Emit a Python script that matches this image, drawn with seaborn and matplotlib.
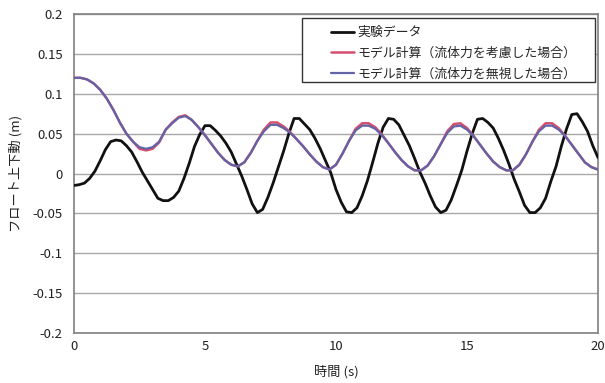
import numpy as np
import pandas as pd
import matplotlib
matplotlib.use("Agg")
import matplotlib.pyplot as plt
from matplotlib.patches import Rectangle
import seaborn as sns

# ---- data -------------------------------------------------------------
# measured float heave (sampled every 0.2 s)
t_exp = np.arange(0, 101) * 0.2
z_exp = [
    -0.015, -0.014, -0.012, -0.006, 0.003, 0.016, 0.030, 0.040, 0.042, 0.041,
    0.035, 0.027, 0.015, 0.002, -0.009, -0.020, -0.031, -0.034, -0.034, -0.030,
    -0.022, -0.006, 0.013, 0.034, 0.049, 0.060, 0.060, 0.054, 0.047, 0.038,
    0.027, 0.012, -0.003, -0.020, -0.038, -0.049, -0.045, -0.030, -0.012, 0.008,
    0.028, 0.050, 0.069, 0.069, 0.062, 0.055, 0.044, 0.031, 0.016, 0.001,
    -0.020, -0.036, -0.048, -0.049, -0.043, -0.028, -0.009, 0.014, 0.038, 0.058,
    0.069, 0.068, 0.061, 0.048, 0.035, 0.019, 0.002, -0.012, -0.028, -0.042,
    -0.049, -0.046, -0.033, -0.015, 0.004, 0.028, 0.050, 0.068, 0.069, 0.064,
    0.057, 0.044, 0.029, 0.012, -0.007, -0.023, -0.040, -0.049, -0.049, -0.043,
    -0.031, -0.010, 0.009, 0.034, 0.056, 0.074, 0.075, 0.065, 0.053, 0.035,
    0.020,
]

# model results (sampled every 0.25 s)
t_model = np.arange(0, 81) * 0.25
z_fluid = [
    0.120, 0.120, 0.118, 0.113, 0.105, 0.094, 0.080, 0.064, 0.050, 0.040,
    0.031, 0.029, 0.031, 0.039, 0.055, 0.064, 0.071, 0.073, 0.067, 0.058,
    0.048, 0.037, 0.026, 0.017, 0.011, 0.009, 0.014, 0.026, 0.041, 0.055,
    0.064, 0.064, 0.059, 0.052, 0.043, 0.034, 0.024, 0.015, 0.008, 0.005,
    0.011, 0.025, 0.041, 0.056, 0.063, 0.063, 0.058, 0.049, 0.038, 0.027,
    0.017, 0.009, 0.004, 0.004, 0.010, 0.022, 0.037, 0.053, 0.062, 0.063,
    0.057, 0.047, 0.036, 0.025, 0.015, 0.008, 0.004, 0.004, 0.011, 0.024,
    0.040, 0.055, 0.063, 0.063, 0.057, 0.047, 0.036, 0.025, 0.014, 0.008,
    0.005,
]
z_nofluid = [
    0.120, 0.120, 0.118, 0.113, 0.105, 0.094, 0.080, 0.064, 0.050, 0.040,
    0.033, 0.031, 0.033, 0.040, 0.055, 0.063, 0.070, 0.072, 0.067, 0.058,
    0.048, 0.037, 0.026, 0.017, 0.011, 0.009, 0.014, 0.026, 0.041, 0.053,
    0.061, 0.061, 0.057, 0.051, 0.043, 0.034, 0.024, 0.015, 0.008, 0.005,
    0.011, 0.025, 0.041, 0.054, 0.060, 0.060, 0.056, 0.048, 0.038, 0.027,
    0.017, 0.009, 0.004, 0.004, 0.010, 0.022, 0.037, 0.051, 0.059, 0.060,
    0.055, 0.047, 0.036, 0.025, 0.015, 0.008, 0.004, 0.004, 0.011, 0.024,
    0.040, 0.053, 0.060, 0.060, 0.055, 0.047, 0.036, 0.025, 0.014, 0.008,
    0.005,
]

series_names = ["実験データ", "モデル計算（流体力を考慮した場合）", "モデル計算（流体力を無視した場合）"]
series_colors = ["#111111", "#D4506E", "#6262A6"]

x_ticks = [0, 5, 10, 15, 20]
x_ticklabels = ["0", "5", "10", "15", "20"]
y_ticks = [-0.2, -0.15, -0.1, -0.05, 0, 0.05, 0.1, 0.15, 0.2]
y_ticklabels = ["-0.2", "-0.15", "-0.1", "-0.05", "0", "0.05", "0.1", "0.15", "0.2"]

x_label = "時間 (s)"
y_label = "フロート上下動 (m)"

# ---- style ------------------------------------------------------------
sns.set_style("white")
plt.rcParams["font.family"] = ["Noto Sans CJK JP", "DejaVu Sans"]

fig = plt.figure(figsize=(6.05, 3.83), dpi=100)
ax = fig.add_axes([0.1223, 0.1305, 0.8661, 0.8329])

df_exp = pd.DataFrame({"t": t_exp, "z": z_exp})
df_model = pd.DataFrame({"t": t_model, "a": z_fluid, "b": z_nofluid})

sns.lineplot(data=df_exp, x="t", y="z", ax=ax, color=series_colors[0],
             linewidth=2.0, label=series_names[0], zorder=3)
sns.lineplot(data=df_model, x="t", y="a", ax=ax, color=series_colors[1],
             linewidth=1.8, label=series_names[1], zorder=4)
sns.lineplot(data=df_model, x="t", y="b", ax=ax, color=series_colors[2],
             linewidth=1.6, label=series_names[2], zorder=5)

ax.set_xlim(0, 20)
ax.set_ylim(-0.2, 0.2)
ax.set_xticks(x_ticks)
ax.set_xticklabels(x_ticklabels)
ax.set_yticks(y_ticks)
ax.set_yticklabels(y_ticklabels)
ax.tick_params(axis="x", direction="in", length=3, color="#808080",
               labelsize=9.5, labelcolor="#222222", pad=5)
ax.tick_params(axis="y", length=0, labelsize=9.5, labelcolor="#222222", pad=8)

ax.yaxis.grid(True, color="#A8A8A8", linewidth=1.0)
ax.xaxis.grid(False)
ax.set_axisbelow(True)
for side in ["left", "right", "top", "bottom"]:
    ax.spines[side].set_color("#808080")
    ax.spines[side].set_linewidth(1.2)

ax.set_xlabel(x_label, fontsize=9.5, color="#222222", labelpad=9)
ax.set_ylabel(y_label, fontsize=9.5, color="#222222")
ax.yaxis.set_label_coords(-0.098, 0.5)

# legend entries with a separate frame box
leg = ax.legend(loc="upper left", bbox_to_anchor=(0.49, 0.962), frameon=False,
                fontsize=9.3, handlelength=1.8, handletextpad=0.3,
                labelspacing=0.6, borderpad=0, borderaxespad=0)
ax.add_patch(Rectangle((0.435, 0.787), 0.559, 0.2, transform=ax.transAxes,
                       facecolor="white", edgecolor="#333333", linewidth=1.0,
                       zorder=6))
leg.set_zorder(7)

fig.savefig("out.png", dpi=100)
